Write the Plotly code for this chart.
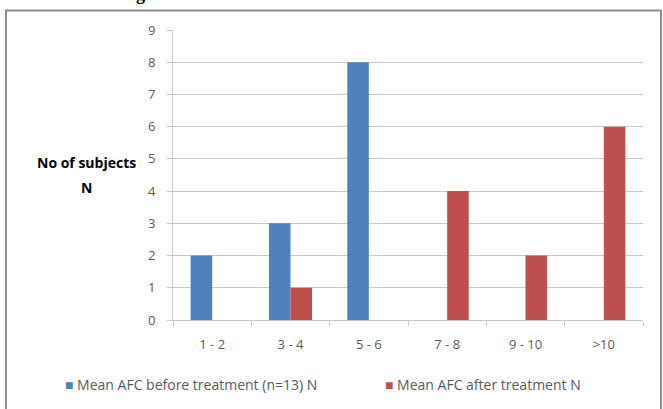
import plotly.graph_objects as go

categories = ["1 - 2", "3 - 4", "5 - 6", "7 - 8", "9 - 10", ">10"]
before_treatment = [2, 3, 8, 0, 0, 0]
after_treatment = [0, 1, 0, 4, 2, 6]
series_names = ["Mean AFC before treatment (n=13) N", "Mean AFC after treatment N"]
y_ticks = list(range(0, 10))

BLUE = "#4F81BD"
RED = "#C0504D"
GRID = "#C8C8C8"
TEXT = "#595959"
FONT = "Open Sans, Lato, sans-serif"

W, H = 663, 409
L, R, T, B = 173, 20, 30, 89
pw, ph = W - L - R, H - T - B


def px(x):
    return (x - L) / pw


def py(y):
    return (H - B - y) / ph


fig = go.Figure()
for name, vals, col in zip(series_names, [before_treatment, after_treatment], [BLUE, RED]):
    fig.add_trace(go.Bar(
        x=categories, y=vals, name=name,
        marker=dict(color=col, line=dict(width=0)),
    ))

# legend drawn as text rows with small coloured squares
legend_items = []
for name, col, x0 in zip(series_names, [BLUE, RED], [63, 383]):
    legend_items.append(dict(
        text=f'<span style="color:{col}">■</span> {name}',
        xref="paper", yref="paper", x=px(x0), y=py(384),
        xanchor="left", yanchor="middle", showarrow=False,
        font=dict(family=FONT, size=14, color=TEXT),
    ))

fig.update_layout(
    width=W, height=H,
    margin=dict(l=L, r=R, t=T, b=B),
    paper_bgcolor="white", plot_bgcolor="white",
    barmode="group", bargap=0.45, bargroupgap=0,
    font=dict(family=FONT, size=13, color=TEXT),
    showlegend=False,
    xaxis=dict(
        type="category", showgrid=False, showline=True, linecolor=GRID, linewidth=1,
        ticks="outside", tickson="boundaries", ticklen=5, tickcolor=GRID,
        tickfont=dict(family=FONT, size=13, color=TEXT), ticklabelstandoff=12,
    ),
    yaxis=dict(
        range=[0, 9], tickvals=y_ticks, showgrid=True, gridcolor=GRID, gridwidth=1,
        showline=True, linecolor=GRID, linewidth=1, zeroline=False,
        ticks="outside", ticklen=5, tickcolor=GRID,
        tickfont=dict(family=FONT, size=13, color=TEXT), ticklabelstandoff=9,
    ),
    shapes=[dict(
        type="rect", xref="paper", yref="paper",
        x0=px(6), x1=px(661), y0=py(420), y1=py(10.5),
        line=dict(color="#8C8C8C", width=2), fillcolor="rgba(0,0,0,0)", layer="above",
    )],
    annotations=legend_items + [
        dict(
            text="<b>No of subjects</b>", xref="paper", yref="paper",
            x=px(86), y=py(162), xanchor="center", yanchor="middle", showarrow=False,
            font=dict(family=FONT, size=14, color="#000000"),
        ),
        dict(
            text="<b>N</b>", xref="paper", yref="paper",
            x=px(86), y=py(187), xanchor="center", yanchor="middle", showarrow=False,
            font=dict(family=FONT, size=14, color="#000000"),
        ),
        dict(
            text="<b>g</b>", xref="paper", yref="paper",
            x=px(140), y=py(-6), xanchor="center", yanchor="middle", showarrow=False,
            font=dict(family="Liberation Serif, serif", size=18, color="#000000"),
        ),
    ],
)

fig.write_html("out.html")
